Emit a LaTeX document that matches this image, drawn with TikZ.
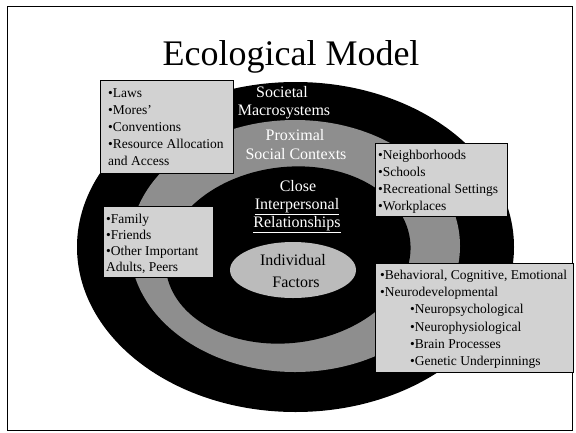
\documentclass[tikz,border=0pt]{standalone}
\usepackage{fontspec}
\setmainfont{Liberation Serif}
\usetikzlibrary{shapes.geometric}
\definecolor{boxgray}{HTML}{D2D2D2}
\definecolor{ringgray}{HTML}{8E8E8E}
\definecolor{indgray}{HTML}{BBBBBB}
\begin{document}
\begin{tikzpicture}[x=1pt,y=-1pt,
  lbl/.style={text=white,font=\fontsize{16}{18}\selectfont,inner sep=0pt,anchor=base},
  ilbl/.style={text=black,font=\fontsize{16}{18}\selectfont,inner sep=0pt,anchor=base},
  btxt/.style={anchor=base west,inner sep=0pt,font=\fontsize{13.5}{16}\selectfont},
  infobox/.style={draw=black,line width=1.2pt,fill=boxgray,inner sep=0pt,anchor=north west},
  ring/.style={ellipse,inner sep=0pt,draw=none}]
\useasboundingbox (0,0) rectangle (576,432);
\fill[white] (0,0) rectangle (576,432);
\node[draw,line width=1.3pt,minimum width=565pt,minimum height=424pt,anchor=north west,inner sep=0pt] (frame) at (7,6) {};
\node[font=\fontsize{36}{40}\selectfont,anchor=base,inner sep=0pt] (title) at (291,65) {Ecological Model};
% rings
\node[ring,fill=black,minimum width=437pt,minimum height=330pt] (outer) at (295.5,247) {};
\node[ring,fill=ringgray,minimum width=330pt,minimum height=252pt] (prox) at (295,246) {};
\node[ring,fill=black,minimum width=246pt,minimum height=176pt,rotate=7] (close) at (288,255) {};
\node[ring,fill=indgray,minimum width=126pt,minimum height=56pt] (indiv) at (293,270) {};
% ring labels
\node[lbl] (soc1) at (282,97) {Societal};
\node[lbl] (soc2) at (284,115) {Macrosystems};
\node[lbl] (prx1) at (295,140) {Proximal};
\node[lbl] (prx2) at (296,159) {Social Contexts};
\node[lbl] (cl1) at (298,191) {Close};
\node[lbl] (cl2) at (297,209) {\underline{Interpersonal}};
\node[lbl] (cl3) at (297,227) {\underline{Relationships}};
\node[ilbl] (in1) at (293,265) {Individual};
\node[ilbl] (in2) at (296,287) {Factors};
% boxes
\node[infobox,minimum width=133pt,minimum height=93pt] (box1) at (100,80) {};
\node[btxt] (b1a) at (108,97) {•Laws};
\node[btxt] (b1b) at (108,114) {•Mores'};
\node[btxt] (b1c) at (108,131) {•Conventions};
\node[btxt] (b1d) at (108,148) {•Resource Allocation};
\node[btxt] (b1e) at (108,165) {and Access};
\node[infobox,minimum width=132pt,minimum height=73pt] (box2) at (375,143) {};
\node[btxt] (b2a) at (378,159) {•Neighborhoods};
\node[btxt] (b2b) at (378,176) {•Schools};
\node[btxt] (b2c) at (378,193) {•Recreational Settings};
\node[btxt] (b2d) at (378,210) {•Workplaces};
\node[infobox,minimum width=110pt,minimum height=71pt] (box3) at (103,206) {};
\node[btxt] (b3a) at (106,223) {•Family};
\node[btxt] (b3b) at (106,239) {•Friends};
\node[btxt] (b3c) at (106,255) {•Other Important};
\node[btxt] (b3d) at (106,271) {Adults, Peers};
\node[infobox,minimum width=198pt,minimum height=109pt] (box4) at (375,263) {};
\node[btxt] (b4a) at (380,279.5) {•Behavioral, Cognitive, Emotional};
\node[btxt] (b4b) at (380,296.7) {•Neurodevelopmental};
\node[btxt] (b4c) at (410,313.9) {•Neuropsychological};
\node[btxt] (b4d) at (410,331.1) {•Neurophysiological};
\node[btxt] (b4e) at (410,348.3) {•Brain Processes};
\node[btxt] (b4f) at (410,365.5) {•Genetic Underpinnings};
\end{tikzpicture}
\end{document}
